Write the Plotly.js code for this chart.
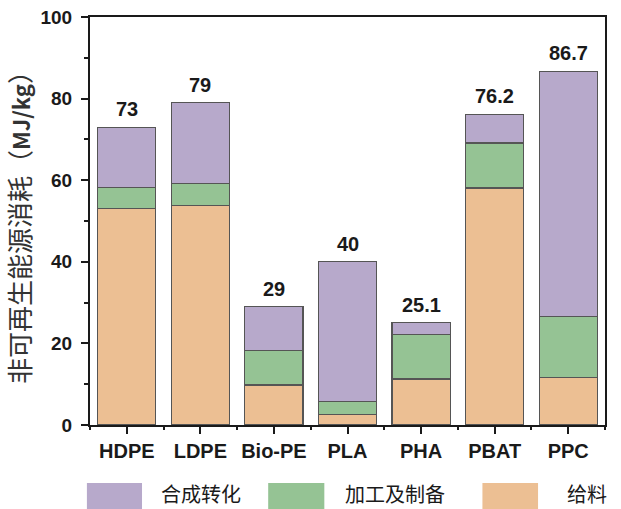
<!DOCTYPE html>
<html>
<head>
<meta charset="utf-8">
<script src="https://cdn.plot.ly/plotly-3.0.1.min.js"></script>
<style>html,body{margin:0;padding:0;background:#fff;}#chart{width:621px;height:509px;}</style>
</head>
<body>
<div id="chart"></div>
<script>
// ---- data ----
var categories = ["HDPE", "LDPE", "Bio-PE", "PLA", "PHA", "PBAT", "PPC"];
var feedstock  = [53.0, 53.8, 9.8, 2.5, 11.3, 58.1, 11.6];   // 给料
var processing = [5.3, 5.4, 8.4, 3.3, 10.8, 11.0, 15.0];     // 加工及制备
var synthesis  = [14.7, 19.8, 10.8, 34.2, 3.0, 7.1, 60.1];   // 合成转化
var totals     = [73, 79, 29, 40, 25.1, 76.2, 86.7];
var totalLabels = ["73", "79", "29", "40", "25.1", "76.2", "86.7"];
var seriesNames = ["给料", "加工及制备", "合成转化"];
var yTicks = [0, 20, 40, 60, 80, 100];

var colors = {feed: "#ecbf93", proc: "#95c394", synth: "#b7a9cb"};
var edge = {color: "#555555", width: 1.2};
var latin = "Liberation Sans, Arial, Noto Sans CJK SC, sans-serif";
var cjk = "Noto Sans CJK SC, Liberation Sans, sans-serif";

var traces = [
  {type: "bar", x: categories, y: feedstock, name: seriesNames[0],
   marker: {color: colors.feed, line: edge}, hoverinfo: "x+y+name"},
  {type: "bar", x: categories, y: processing, name: seriesNames[1],
   marker: {color: colors.proc, line: edge}, hoverinfo: "x+y+name"},
  {type: "bar", x: categories, y: synthesis, name: seriesNames[2],
   marker: {color: colors.synth, line: edge}, hoverinfo: "x+y+name"},
  // invisible trace that carries the boundary-tick axis
  {type: "scatter", x: categories, y: totals, xaxis: "x2", yaxis: "y",
   mode: "none", showlegend: false, hoverinfo: "skip"}
];

var annotations = categories.map(function (c, i) {
  return {x: c, y: totals[i], xref: "x", yref: "y", text: "<b>" + totalLabels[i] + "</b>",
          showarrow: false, yanchor: "bottom", yshift: 5,
          font: {family: latin, size: 20, color: "#1a1a1a"}};
});

// legend drawn under the plot
var legendItems = [
  {name: seriesNames[2], color: colors.synth, x0: -0.006, x1: 0.101, tx: 0.134},
  {name: seriesNames[1], color: colors.proc, x0: 0.346, x1: 0.455, tx: 0.492},
  {name: seriesNames[0], color: colors.feed, x0: 0.762, x1: 0.870, tx: 0.922}
];
var shapes = legendItems.map(function (it) {
  return {type: "rect", xref: "paper", yref: "paper", x0: it.x0, x1: it.x1,
          y0: -0.142, y1: -0.26, fillcolor: it.color, line: {width: 0}, layer: "above"};
});
legendItems.forEach(function (it) {
  annotations.push({xref: "paper", yref: "paper", x: it.tx, y: -0.128, xanchor: "left", yanchor: "top",
    text: it.name, showarrow: false, font: {family: cjk, size: 20, color: "#1a1a1a"}});
});

var layout = {
  width: 621, height: 509,
  margin: {l: 90, r: 16, t: 17, b: 84},
  paper_bgcolor: "#ffffff", plot_bgcolor: "#ffffff",
  barmode: "stack", bargap: 0.21,
  showlegend: false,
  xaxis: {type: "category", categoryorder: "array", categoryarray: categories,
          range: [-0.5, 6.5], showline: true, linecolor: "#1a1a1a", linewidth: 2, mirror: true,
          ticks: "outside", ticklen: 7, tickwidth: 2, tickcolor: "#1a1a1a",
          tickfont: {family: latin, size: 20, color: "#1a1a1a", weight: "bold"},
          showgrid: false, zeroline: false, fixedrange: true},
  xaxis2: {type: "category", categoryorder: "array", categoryarray: categories,
          overlaying: "x", anchor: "y", side: "bottom", range: [-0.5, 6.5],
          tickson: "boundaries", ticks: "outside", ticklen: 4, tickwidth: 2, tickcolor: "#1a1a1a",
          showticklabels: false, showline: false, showgrid: false, zeroline: false},
  yaxis: {range: [0, 100], tickvals: yTicks, showline: true, linecolor: "#1a1a1a", linewidth: 2, mirror: true,
          ticks: "outside", ticklen: 7, tickwidth: 2, tickcolor: "#1a1a1a",
          minor: {dtick: 10, tick0: 0, ticks: "outside", ticklen: 4, tickwidth: 2, tickcolor: "#1a1a1a"},
          tickfont: {family: latin, size: 19, color: "#1a1a1a", weight: "bold"},
          ticklabelstandoff: 5,
          showgrid: false, zeroline: false,
          title: {text: "非可再生能源消耗（<b><span style=\"font-size:22px\">MJ/kg</span></b>）",
                  font: {family: cjk, size: 26, color: "#333333"}, standoff: 8}},
  annotations: annotations,
  shapes: shapes
};

Plotly.newPlot("chart", traces, layout, {displayModeBar: false, responsive: false});
</script>
</body>
</html>
